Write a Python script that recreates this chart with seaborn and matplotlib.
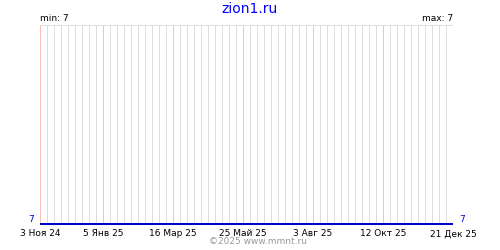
import matplotlib
matplotlib.use("Agg")
import matplotlib.pyplot as plt
import seaborn as sns
import pandas as pd
import numpy as np

# data
dates = ["2024-11-03", "2025-12-21"]
values = [7, 7]
tick_dates = ["2024-11-03", "2025-01-05", "2025-03-16", "2025-05-25",
              "2025-08-03", "2025-10-12", "2025-12-21"]
tick_labels = ["3 Ноя 24", "5 Янв 25", "16 Мар 25", "25 Май 25",
               "3 Авг 25", "12 Окт 25", "21 Дек 25"]
title = "zion1.ru"
min_label = "min: 7"
max_label = "max: 7"
footer = "©2025 www.mmnt.ru"

sns.set_style("white")
plt.rcParams['font.family'] = ['DejaVu Sans']
plt.rcParams['text.color'] = 'black'
plt.rcParams['xtick.color'] = 'black'

df = pd.DataFrame({"date": pd.to_datetime(dates), "value": values})
tdates = pd.to_datetime(tick_dates)
tset = set(tdates)

fig = plt.figure(figsize=(5, 2.5), dpi=100)
ax = fig.add_axes([0.08, 0.1, 0.826, 0.8])

start, end = df["date"].min(), df["date"].max()
px = 0.72
# weekly grid lines
weeks = pd.date_range(start, end, freq="7D")
for w in weeks:
    if w in tset:
        continue
    ax.axvline(w, color="#dddddd", lw=px, zorder=0, snap=True)
for t in tdates:
    ax.axvline(t, color="#ffbcbc", lw=px, zorder=1, snap=True)
ax.axhline(8, color="#dddddd", lw=px, zorder=1, snap=True)

sns.lineplot(data=df, x="date", y="value", ax=ax, color="#0000cc", lw=1.6,
             zorder=3, antialiased=False)

ax.set_xlim(start, end)
ax.set_ylim(7, 8)
ax.set_xticks(tdates)
ax.set_xticklabels(tick_labels, fontsize=6.5, color="black")
ax.set_yticks([])
ax.tick_params(axis="both", length=0, pad=3)
ax.set_xlabel("")
ax.set_ylabel("")
for s in ax.spines.values():
    s.set_visible(False)

ax.text(-0.015, 0.005, "7", transform=ax.transAxes, color="#0000cc", fontsize=6.5,
        ha="right", va="bottom")
ax.text(1.015, 0.005, "7", transform=ax.transAxes, color="#0000cc", fontsize=6.5,
        ha="left", va="bottom")
ax.text(0.0, 1.01, min_label, transform=ax.transAxes, fontsize=6.5,
        ha="left", va="bottom", color="black")
ax.text(1.0, 1.01, max_label, transform=ax.transAxes, fontsize=6.5,
        ha="right", va="bottom", color="black")
fig.text(0.5, 0.965, title, color="#0000ff", fontsize=10, ha="center", va="center")
fig.text(0.516, 0.035, footer, color="#999999", fontsize=6.5, ha="center", va="center")

fig.savefig("out.png", dpi=100)
